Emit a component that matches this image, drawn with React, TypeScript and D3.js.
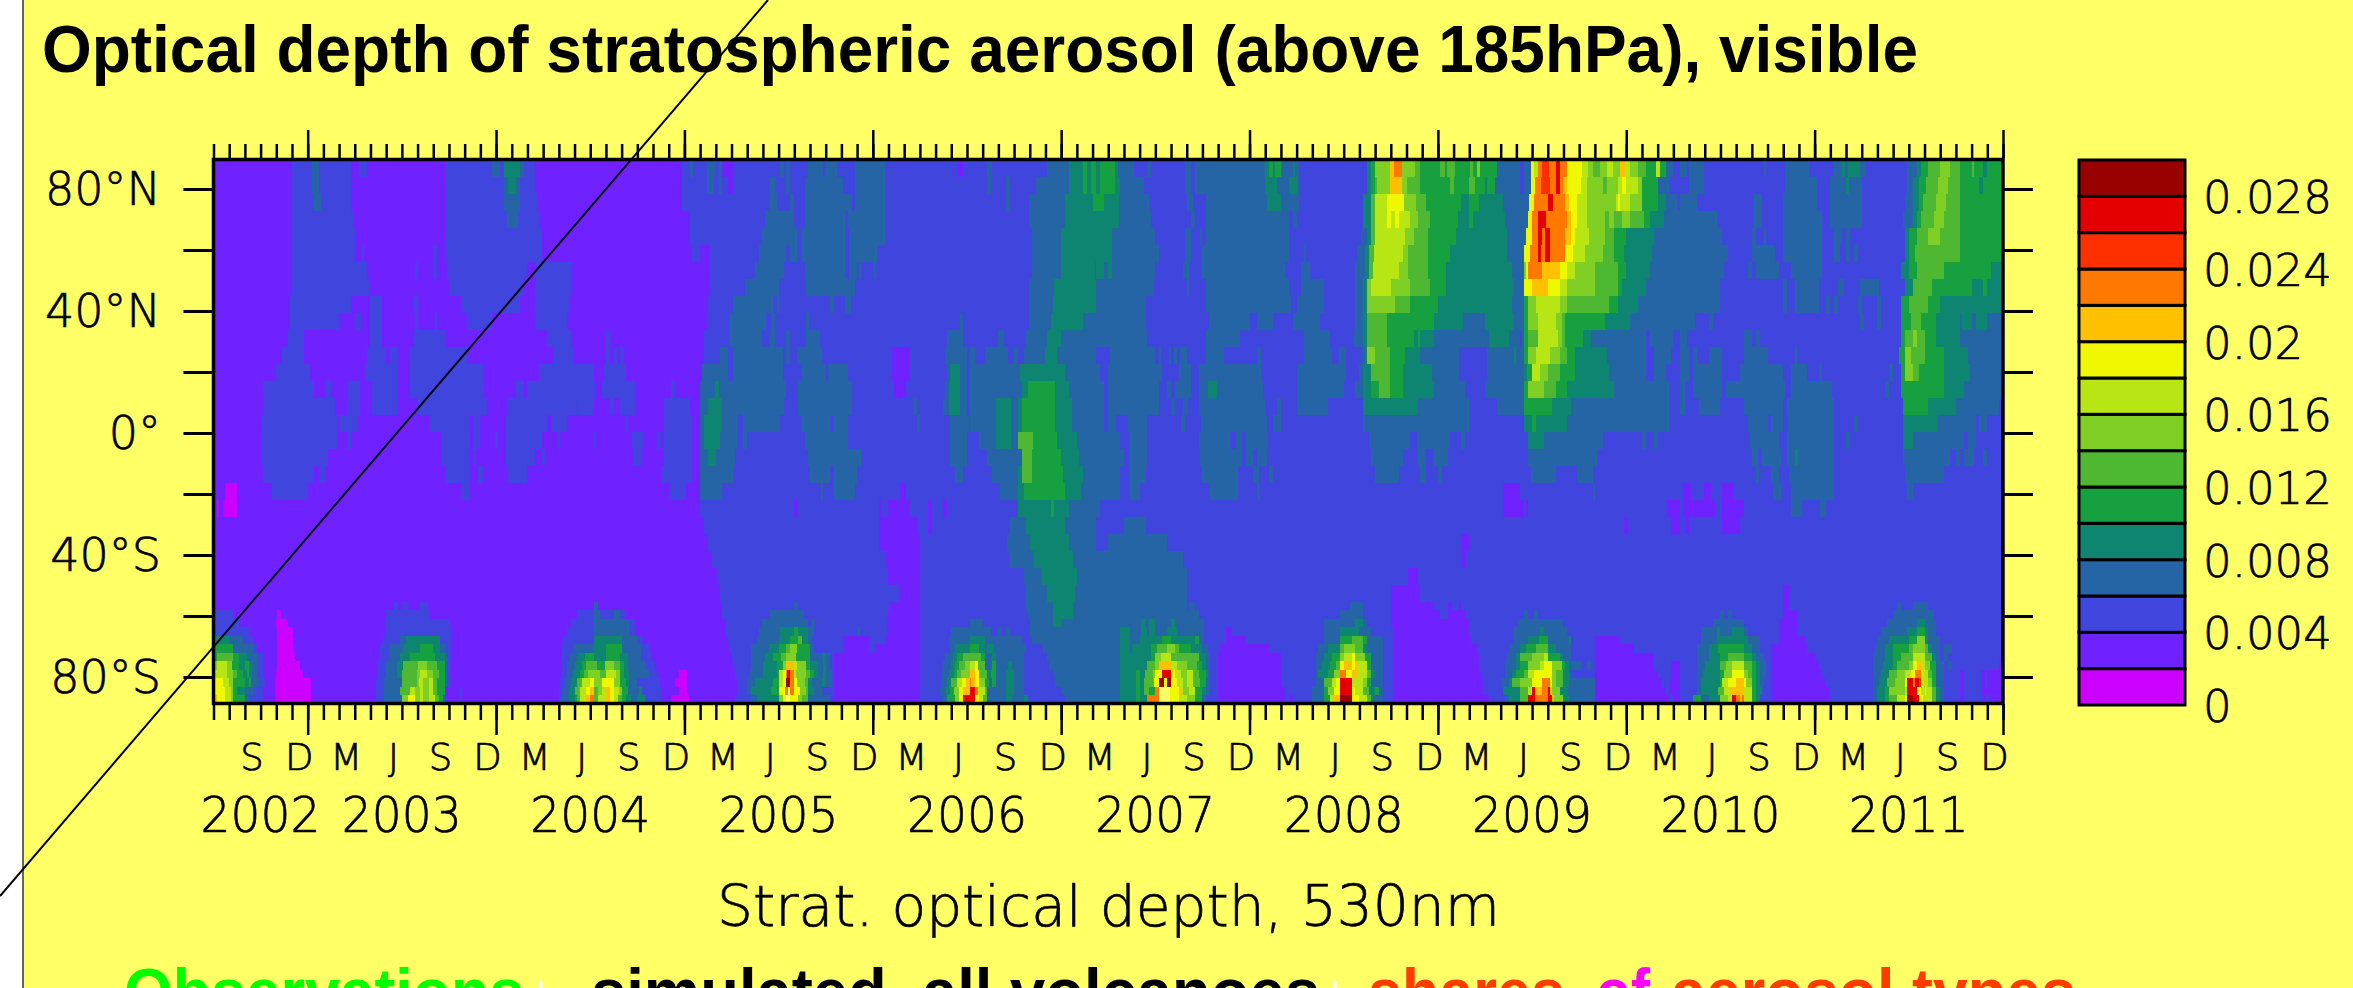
import React, { useEffect, useRef } from "react";
import * as d3 from "d3";

// colour bands of the bar, 0 .. 0.03 in steps of 0.002, last one is off scale
const bandColors = ["#cc00ff", "#6f22ff", "#3f45dd", "#2565a5", "#0e8570", "#16a040", "#4fb832", "#80cf25", "#b8e614", "#f0f800", "#ffc000", "#ff7800", "#ff3000", "#e40000", "#990000", "#ffff66"];
const barLabels = ["0", "0.004", "0.008", "0.012", "0.016", "0.02", "0.024", "0.028"];
const barValues = [0, 0.004, 0.008, 0.012, 0.016, 0.02, 0.024, 0.028];

const monthLabels = ["S", "D", "M", "J", "S", "D", "M", "J", "S", "D", "M", "J", "S", "D", "M", "J", "S", "D", "M", "J", "S", "D", "M", "J", "S", "D", "M", "J", "S", "D", "M", "J", "S", "D", "M", "J", "S", "D"];
const yearLabels = ["2002", "2003", "2004", "2005", "2006", "2007", "2008", "2009", "2010", "2011"];
const yearMonths = [3, 12, 24, 36, 48, 60, 72, 84, 96, 108];
const latTicks = [80, 60, 40, 20, 0, -20, -40, -60, -80];
const latLabels = new Map<number, string>([[80, "80°N"], [40, "40°N"], [0, "0°"], [-40, "40°S"], [-80, "80°S"]]);

// latitude rows top to bottom, counted in model grid rows (64 in all)
const rowSpans = [2, 2, 2, 2, 2, 2, 2, 2, 2, 2, 2, 2, 2, 2, 2, 2, 2, 2, 2, 2, 2, 2, 2, 2, 2, 2, 1, 1, 1, 1, 1, 1, 1, 1, 1, 1, 1, 1];

// "band:end" runs per latitude row, end in quarter months since the left edge
const runsA = [
  "1:20 2:25 3:27 2:35 1:37 2:39 1:59 2:71 3:73 2:74 4:78 3:79 2:82 1:97",
  "1:20 2:25 3:27 2:35 1:59 2:74 3:75 4:77 3:78 2:82 1:97",
  "1:20 2:25.5 3:27.3 2:35 1:59 2:74 3:78 2:82.5 1:97",
  "1:20 2:35.5 1:59 2:74.7 3:77.7 2:83 1:97",
  "1:20 2:36 1:59 2:83.6 1:97",
  "1:20 2:36 1:37.8 2:38.4 1:56 2:57 1:59 2:83.6 1:97",
  "1:20 2:39 1:51.4 2:52 1:56 2:57 1:59.4 2:80 1:82 2:91 1:97",
  "1:20 2:39.5 1:60 2:79 1:82 2:91 1:97",
  "1:19.5 2:35 1:40 2:43 1:51 2:52 1:63 2:78 1:82 2:90.5 1:97",
  "1:19.5 2:32 1:36 2:37.5 1:40 2:43 1:51.4 2:52 1:56.5 2:57 1:64.5 2:71 1:82 2:90 1:97",
  "1:19 2:23 1:40 2:43 1:51 2:59 1:85 2:91 1:97",
  "1:17.4 2:23 1:39 2:44 1:45 2:46.7 1:49.7 2:64.5 1:86.6 2:91.7 1:97",
  "1:16 2:24.6 1:38.6 2:46.7 1:50 2:68.8 1:83 2:97",
  "1:12.7 2:25.5 1:28.4 2:30 1:34.4 2:37.3 1:40.3 2:46.7 1:50 2:69 1:77 2:79 1:80 2:97",
  "1:12.7 2:31 1:34 2:37.3 1:40.3 2:46.7 1:52 2:69.6 1:74.7 2:92.5 1:93 2:97",
  "1:12.3 2:31.8 1:32 2:36.5 1:55 2:65 1:66 2:68 1:74.5 2:85 1:86 2:90 1:97",
  "1:12 2:31.4 1:34 2:35 1:58 2:65.4 1:66 2:68 1:71.7 2:72.6 1:74.5 2:83.6 1:87.5 2:88.3 1:97",
  "1:12 2:29.3 1:58 2:65 1:66 2:67 1:74.5 2:82 1:83.6 2:84.5 1:97",
  "1:12.7 2:25.5 1:27 2:28.4 1:59 2:65 1:67.5 2:68.8 1:75 2:80 1:97",
  "1:3 0:6 1:15 2:24 1:63 2:65 1:97",
  "1:1 0:1.5 1:2.5 0:6 1:97",
  "1:97",
  "1:97",
  "1:97",
  "1:97",
  "1:97",
  "1:46 2:47 1:48 2:49.6 1:52.6 2:54.7 1:97",
  "2:5 1:16.3 0:17.2 1:44 2:55 1:92.5 2:97",
  "2:6.4 1:16 0:19 1:43.7 2:60.3 1:91 2:97",
  "2:9 1:16.3 0:20.2 1:43.7 2:60.4 1:90 2:97",
  "4:4 3:7.6 2:10 1:16.3 0:20.2 1:43.3 2:47.5 3:49 4:57.7 2:60.4 1:89 2:97",
  "5:5 3:10 2:11 1:16.3 0:20.5 1:42.4 2:45 3:48.4 4:52.6 5:56 4:57.7 3:59 2:60.4 1:88.7 2:91.7 3:97",
  "5:1 6:5 5:6.4 4:8.5 3:11 2:12.7 1:16.3 0:20.8 1:42.2 2:44.6 3:47.5 4:50 5:56.5 4:59 3:59.4 2:60.4 1:88.7 2:90.8 3:93 4:94.6 5:97",
  "7:1 8:3.4 7:4.7 5:6.4 4:8 5:9 4:9.8 3:11 2:12.7 1:16.3 0:22 1:41.7 2:44 3:46.7 4:48.4 6:52 7:54.3 6:56.9 5:59 3:59.4 2:60.3 1:88.7 2:90 3:92 4:93.8 5:95 6:97",
  "8:3.4 7:5 6:6 5:7.5 4:8.5 5:9 4:9.8 3:11 2:12.7 1:16 0:22.8 1:41.7 2:44 3:46.7 4:48 6:51.8 7:52.6 8:54.3 7:56 6:57.5 5:59 3:59.5 2:60.3 1:88.7 2:90 3:91.7 4:93.5 5:94.5 6:95.5 7:97",
  "9:2.5 8:4 7:5 5:8 4:9 5:9.5 3:11.5 2:13 1:15.6 0:24.8 1:41.5 2:43.5 3:48 6:51.8 7:52.3 8:53.5 7:55 8:56 6:57 5:59 3:59.4 2:60.5 1:88.4 2:89.5 3:91 4:92.5 6:94 8:96 9:97",
  "9:3 8:4.5 7:5 5:6 4:8 3:10 2:12.7 1:15.6 0:24.8 1:41.5 2:43.5 3:47.5 6:50 8:51.4 7:52.5 8:53.5 7:55 8:56 6:57 5:59 1:62.5 2:63.3 1:88 2:89 3:90.7 4:92 6:93.5 8:95 9:96 a:97",
  "a:1 9:3 8:4.5 7:5 5:8 3:9 2:12.7 1:15.6 0:24.8 1:41.5 2:43.5 3:48 7:49.5 9:51.4 7:52.5 8:53.5 7:55 8:56.5 6:57.5 5:58.5 3:59 1:62.5 2:63.3 1:88 2:88.5 3:90.5 4:92 5:92.5 6:93.5 8:95 a:96 b:97",
];

const runsB = [
  "1:119.3 2:121.3 3:122.3 2:125.7 3:127.8 2:128.7 3:129.5 1:132.5 2:144.4 3:145.3 2:146 3:147 2:151.6 3:155.4 2:156.2 3:158.8 2:163.5 3:171 2:189.4 1:191 2:192.7",
  "1:119.3 2:125.7 3:127.5 2:128.7 3:129.5 2:131 1:132.5 2:141.7 3:143 2:146 3:147 2:150.6 3:160.5 2:163.5 3:171 2:192.7",
  "1:119.3 2:141.7 3:143.5 2:147 3:148 2:150.6 3:162.6 2:163.5 3:171 2:192.7",
  "1:121.3 2:140.5 3:148 2:150.6 3:161 2:161.8 3:171 2:192.7",
  "1:121.3 2:139.7 3:148.6 2:150 3:161 2:162 3:171 2:192.7",
  "1:122 2:124 1:126.5 2:139 3:146 2:147 3:148.6 2:150 3:161 2:162 3:169 2:192.7",
  "1:126.5 2:138 3:145.5 2:150.6 3:161 2:162 3:164 2:164.5 3:165 2:168 3:168.7 2:192.7",
  "1:126.5 2:135.5 3:144 2:151 3:163.5 2:192.7",
  "1:126 2:132.4 3:142.5 2:143.5 3:144.3 2:157 3:158 2:161 3:162.5 2:192.7",
  "1:125.7 2:131.5 3:140.7 2:142 3:143 2:151 3:151.7 2:190.2 3:191 2:192.7",
  "1:100 2:101 1:125 2:131.5 3:139.7 2:141.7 3:143 2:146 3:147 2:151 3:154.5 2:186.8 3:191 2:192.7",
  "1:100 2:101 1:102 2:103 1:103.6 2:104.5 1:125 2:129 3:131 2:132.3 3:145.2 2:146 3:147 2:148.6 3:155 2:173 1:177.5 2:186.5 3:192 2:192.7",
  "1:99.4 2:105 1:124.4 3:131.2 2:132.4 3:145 2:150 3:156 2:156.7 3:161.8 2:173 1:177.5 2:186.8 3:187.7 4:190.2 3:192 2:192.7",
  "2:97.2 1:99 2:107.3 1:116.5 2:117.6 1:124 3:127.8 4:128.7 3:146 2:149 3:162.6 2:173.5 1:176.5 2:186.5 3:187.5 4:190.2 3:192 2:192.7",
  "2:97 1:101 2:102 1:103.6 2:107.3 1:114.7 2:121.5 1:124 3:126 4:129.5 3:145.5 2:149 3:162.6 2:178.3 3:179.2 2:186 3:187.5 4:190.2 3:192 2:192.7",
  "1:105 2:105.5 1:114.7 2:122 1:124 3:125 4:129.5 3:133.7 2:135 3:144.4 2:150 3:157 2:158 3:161.6 2:179.3 3:180 2:187.7 3:192.5 2:192.7",
  "2:97.3 1:106.7 2:109.4 1:113 2:114 1:114.7 2:122 1:124 3:125 4:129 3:133.5 2:135 3:136 2:150.6 3:161.7 2:187.7 3:192 2:192.7",
  "1:107 2:109 1:114.7 2:122 1:124 3:126 4:128 3:133 2:151.6 3:165 2:187.7 3:192 2:192.7",
  "1:114 2:122 1:124 3:132.3 2:152 3:157 2:158 3:164 2:189 3:191 2:192.7",
  "1:116 2:120.5 1:124 3:129.5 2:154.7 3:155.4 2:158 3:163.5 2:175 1:176.5 2:192.7",
  "1:124 2:148 1:149 2:169.5 1:170 2:172 1:177.4 2:182 1:183 2:186 1:187 2:192.7",
  "1:125 2:169.5 1:179.4 2:182 1:183 2:192.7",
  "1:126 2:169.5 1:180 2:192.7",
  "1:127 2:171 1:180 2:192.7",
  "1:128.3 2:172 1:180 2:192.7",
  "1:129 2:174.7 1:180 2:192.7",
  "3:98 1:129.5 2:148 3:149 2:172.5 1:180 2:192.7",
  "3:98.4 2:102 3:103.6 2:105 1:129.7 2:141.7 3:150.5 2:172 1:180 2:192.7",
  "3:106 2:107.3 1:130.5 2:139.7 3:151.6 2:152.6 3:153.3 2:171.5 1:180 2:192.7",
  "3:106 2:107.5 1:130.5 2:139 3:144.4 4:148 5:149 4:151.5 3:153 2:164 3:164.8 2:171.5 1:180 2:188 3:192.7",
  "4:104 3:108 2:109.4 1:131 2:138.4 3:144 4:147 5:149 6:150 4:151.5 3:152.6 2:160.5 1:167 2:171 1:180 2:187.5 3:192.7",
  "5:97 4:100 5:104 3:109 2:111 1:131.3 2:137 3:141.5 4:144 5:146 6:147 7:148.7 5:152 3:153 2:160.5 1:167 2:168.5 1:180 2:187.7 3:189 4:192.7",
  "5:97 4:100 5:103.6 4:105.5 3:109 2:111.5 1:132 2:137 3:140.5 4:142.5 5:144.5 6:146 7:148.5 5:152 3:155.4 4:156.2 3:157 2:158 1:180 2:186.5 3:188.5 4:189.5 5:191 6:192.7",
  "6:97.7 5:99.8 7:102 6:103.6 5:104.5 4:105.5 3:110 2:112.5 1:132.3 2:137 3:140 4:143.5 5:145 7:146 a:148 8:148.7 7:151 5:152 4:154 3:155.4 4:156.2 3:157 2:158 1:180 2:186 3:188 4:189 5:190 6:191.5 7:192.7",
  "7:98.5 6:100 8:102.5 7:103.6 5:104.5 4:106 3:111 2:113 1:118.5 0:120.6 1:133 2:136.5 3:140 4:143.6 5:144 8:145 9:146 b:146.2 d:147 b:148 8:148.5 7:151 6:152 5:153 4:154 3:155.4 4:156.2 3:157.5 2:158 1:180 2:185.7 3:187.5 4:188.6 5:189.5 6:190.5 7:192.7",
  "8:97 7:99 9:102 7:103.6 5:105 4:106 3:108 2:113.7 1:117.7 0:120.6 1:133.5 2:136 3:138 4:142.5 5:144 8:145 9:146 e:147 b:148 9:148.7 7:150.6 6:151.5 4:152.5 3:155 4:156 3:157.5 2:158 1:180 2:185.7 3:187 4:188 6:189.5 8:190.7 9:191.7 a:192.7",
  "9:97 6:98 7:99 8:100 a:101 9:102 8:103.4 7:104 5:105.5 3:108.3 4:109.2 2:114 1:118.5 0:120.6 1:133.5 2:136 3:137 4:142 5:144 9:145.6 b:146.4 f:147 b:148 9:149.5 7:151 6:151.5 4:153 3:155.4 2:158 1:180 2:185 3:186.7 4:187.7 5:188.7 7:190 9:191 a:192.7",
  "8:97 6:98 8:100 a:101 9:102 8:103 6:104 5:105 4:106.5 3:108 4:110 2:114 1:116.6 0:121.2 1:133 2:137 3:138.5 4:144 7:145 9:146 f:147 9:149 7:150 6:151.5 3:157 2:158 1:180 2:185.7 3:187 5:189 7:190 9:191 d:192.7",
];

const runsC = [
  "2:197 3:198.5 2:212.5 3:218 4:221.5 5:222.6 4:223.5 5:225 4:226 5:229.8 4:230.5 3:234.5 2:238 3:239 2:247.5 3:249 2:250 3:268 4:269 5:270 4:270.5 5:272 4:272.3 3:275 4:275.5 3:276.6 2:287",
  "2:197 3:198 2:202 3:203 2:209.7 3:218 4:221.5 5:222.6 4:223.5 5:225 4:226 5:229.8 4:231 3:237 2:247.5 3:249 2:250 3:268 4:271 3:274 4:276 3:276.6 2:287",
  "2:202 3:203 2:207.7 3:217 4:224 5:227 4:230.8 3:238.5 2:248 3:249.5 2:253 3:268.5 4:272 3:276.5 2:287",
  "2:207.7 3:217 4:230.8 3:239 2:249 3:250 2:253 3:274 2:275 3:276 2:287",
  "2:208.6 3:216 4:229 3:240 2:247.5 3:249 2:251.5 3:252 2:253 3:274 2:287",
  "2:208.6 3:216 4:229 3:241 2:247.5 3:249 2:252 3:274 2:278 3:278.5 2:287",
  "2:208.6 3:216 4:224.5 3:225 4:227 3:228 4:229 3:240 2:247 3:248.5 2:252 3:273 2:277 3:279.4 2:287",
  "2:207.7 3:214.3 4:225 3:239.7 2:248 3:248.7 2:253 3:274 2:277 3:283 2:287",
  "2:207.7 3:214 4:225 3:237.5 2:253 3:274.6 2:276 3:283 2:287",
  "2:207.7 3:213.5 4:221.5 3:237.5 2:253.8 3:264 2:266 3:270 2:275 3:282 2:287",
  "2:200 3:201.5 2:207 3:212.5 4:216 3:238 2:253 3:261.5 2:278 3:284.5 2:287",
  "3:194 2:196.5 3:202.5 2:204 3:205 2:206.5 3:212 4:215 3:225 2:228.5 3:240 2:241 3:241.5 2:243.5 3:244 2:244.7 3:245.5 2:246.4 3:248 2:253 3:257.5 2:266 3:267 2:278 3:285 2:286.7 3:287",
  "3:205.5 4:217 3:226 2:228 3:241.6 2:246 3:249 2:251 3:267 2:276 3:287",
  "3:206 4:207.5 5:214.5 4:218 3:227 2:228 3:241 2:243 3:244 2:245 3:249 2:251 3:253.5 4:255.7 3:267.5 2:276 3:287",
  "3:199.5 4:203.3 3:205 4:206 5:214.5 4:218.7 3:227 2:228 3:241 2:244 3:245 2:247 3:248.3 2:251 3:268 2:271 3:272 2:276 3:284 2:287",
  "3:199.5 4:203.3 3:205 4:206 5:214.5 4:218.7 3:227 2:228 3:230 2:233 3:238 2:246.5 3:247.5 2:251.7 3:268.5 2:270 3:272 2:287",
  "2:195 3:199.5 4:203.3 3:205 6:208.8 5:215 4:220 3:231 2:233.5 3:238 2:251 3:259 2:260.5 3:262 2:263 3:268.7 2:287",
  "2:197 3:206 6:208.5 5:216 4:220.5 3:232 2:233.5 3:238 2:251.5 3:262 2:263 3:265 2:266 3:268.5 2:287",
  "2:198.5 3:205 4:206 6:208.6 5:216.5 4:221.5 3:231 2:233.5 3:237.5 2:252 3:261 2:265 3:266.5 2:269 3:270 2:287",
  "2:200.5 3:205 4:206.5 5:217 4:221 3:231 2:233.5 3:236 2:254 3:261 2:266 3:266.6 2:287",
  "2:205 4:213.5 5:214.3 4:218 3:226 2:287",
  "2:203 3:207 4:217 3:225 2:232 3:237.5 2:287",
  "2:202.3 3:208 4:218 3:225 2:228 3:243 2:287",
  "2:203 3:209 4:219 3:247 2:287",
  "2:206.5 3:211 4:220 3:248 2:287",
  "2:207 3:212.5 4:219.5 3:248 2:287",
  "2:207 3:214 4:219 3:248 2:248.7 3:250 2:287",
  "2:207.5 3:214 4:219 3:251 2:287",
  "3:196 2:208 3:214 4:216 3:236.4 4:237.4 3:238.3 4:240 3:244 4:245 3:252.5 2:283 3:287",
  "3:198 2:200 3:201 2:202 3:203 2:208 3:231 4:233.5 3:236.4 4:238 3:238.5 4:240 3:243 4:245.5 3:252.5 2:258 1:259.5 2:283 3:287",
  "4:196.5 3:206 2:208.5 3:231 4:233.5 3:236 4:241.7 5:244 4:250 5:251 3:252.5 2:258 1:263 2:283 3:287",
  "5:195 4:196.5 3:197 4:199 3:207 2:211.5 3:231 4:233.5 3:234 4:239 5:240.5 6:243 7:245 6:246 5:249 4:252 3:253.5 2:256.5 1:269 2:281.5 3:284 4:287",
  "6:195.5 5:196.5 3:198.5 4:199.5 3:206.5 2:212.5 3:231 4:239 5:240 7:241.5 8:244 6:251 4:253 3:254 2:256 1:272 2:281 3:283 4:285 5:287",
  "8:194 9:194.8 6:196.5 3:198.5 5:199.5 3:202.5 4:203.5 3:206.5 2:213 3:231 4:238 6:240 7:241 a:244 8:245.5 7:248 6:250.5 5:252 4:253 3:254 2:256 1:272 2:281 3:282.5 4:284.5 5:286 6:287",
  "a:194 9:195 6:197 4:198 5:199.5 3:202 4:204 3:206.5 2:214 3:231 4:235 5:236 4:237.4 6:239.5 7:240 9:241.7 d:244 9:245 8:246.5 7:248 8:249.5 6:251 5:253 4:253.5 3:254 2:256 1:272 2:281 3:281.5 4:284 5:285.5 7:287",
  "b:193 a:194 9:195 7:196.5 5:197.5 3:198.5 5:199.5 3:202 4:204 3:206.5 2:214.5 3:231 4:235 5:236 4:237 6:239.7 9:241 e:242.3 9:243 e:244 9:245.5 8:247 7:248 8:249.5 6:251.5 5:253 3:254 2:256 1:272 2:281 3:283 6:285 8:286 9:287",
  "d:194 b:194.8 8:196.5 6:197 3:202 4:204 3:206.5 2:216 3:231 4:235 5:236 4:237 6:238.5 5:240 b:241 f:243.8 9:246 a:246.5 8:247 7:248.5 8:250 5:252 4:253 3:254 2:256 1:273 2:280 3:283 5:284 7:285.5 9:287",
  "d:194 9:195 8:196 6:197 3:202 4:203.5 3:206.5 4:207.5 2:217 3:231 4:235 5:236 4:238 b:241 f:243.8 9:246 8:248 7:250 5:252 3:253 2:256 1:273 2:274 1:275 2:280 3:283 5:284.5 8:285.5 a:287",
];

const runsD = [
  "2:294 4:295 5:296 7:299.8 a:300.9 b:302.8 7:306.2 6:307.5 5:312.6 6:313.8 5:314.3 6:316.4 5:320.2 6:321 5:322 7:322.8 5:327 3:333 2:334 3:335.7 9:336.5 8:337.6 b:338.5 c:340.3 b:342.1 d:343.1 b:344.8 9:348.6 8:350.3 7:351.6 6:353.3 7:355 8:356.5 7:358.5 a:359.7 8:361 7:363 6:365 5:367.5 8:368.5 5:370 3:372 2:373.7",
  "2:294 4:295 5:296 6:296.5 7:299.8 a:302.8 7:304 6:307.5 5:315 6:316 5:320 6:321.5 5:324 4:324.5 5:326.5 3:333 2:334 3:335.7 9:336.7 b:338.2 c:340.5 b:342 d:343 b:344 a:345 9:348.5 8:350 7:354 6:355 7:358 8:359 9:360 8:363 7:364 5:368 3:371 2:373.7",
  "2:293 4:295 6:296 8:299 9:303.3 7:306.5 6:309 5:317.8 4:320 5:322.5 4:328.5 3:335.3 9:336.5 b:340.1 d:341.3 b:344.5 a:345.5 9:347.5 8:350 7:357.5 8:358 9:358.5 8:361 7:364 5:368 4:370 3:373 2:373.7",
  "2:293 4:295 6:296 8:299 9:300 8:301 9:302 8:305 7:307 6:310 5:317 4:320 5:321 4:329 3:335 9:336 b:337.5 d:339.5 b:345 a:346 9:347.5 8:350 7:354.5 6:355.5 7:357 6:359 7:361 6:364.5 5:366 4:369.5 3:373.7",
  "2:292.5 3:294 4:295 6:296 8:303.5 7:306 6:309.5 5:316.5 4:329.5 3:334.5 9:336 b:337.5 d:338.5 b:339.3 d:340.5 b:344.5 a:346 9:347 8:350.5 7:354.5 6:357 5:360 4:367 3:373.7",
  "2:291.5 3:293.5 4:294.5 6:295.8 8:303 7:304.5 6:309.5 5:315 4:329.5 3:334 9:335.5 b:337.5 d:338.3 b:339.2 d:340.5 b:344.5 9:346.5 8:349.5 7:354 6:357 5:359.5 4:366.5 3:373.7",
  "2:291 3:293.5 4:294.5 6:295.5 8:302 7:304.5 6:309.5 5:314 4:331 3:334 7:334.5 9:335 b:338.5 a:343 9:345 8:347 7:352 6:358 5:360 4:366 3:373.7",
  "2:291 3:293 4:294 7:295 8:300 7:305 6:310 5:314 4:331.5 3:334 9:336 a:340 9:343 8:345 7:352 6:358 5:359 4:365 3:373.7",
  "2:291 3:293 4:294 7:301 6:305 5:312 4:331 3:334 5:335 7:337 8:343 7:345 6:355.5 5:358 4:363 3:373.7",
  "2:291 3:293 4:294 6:299 5:311 4:318.5 3:324 4:331.5 3:334 5:335 7:337.5 8:342 7:343.5 6:344.5 5:354.5 4:361 3:373.7",
  "2:290.5 3:293 4:294 6:299 5:306 4:307 5:307.5 4:311 3:325 4:330 3:333 2:333.5 3:334 5:335 6:337.5 8:342.5 7:343.5 6:344.5 5:349 4:351 3:365 2:366 3:372 2:373.7",
  "3:288.5 2:292.7 3:293.5 4:294 7:296 6:299.8 5:303.5 4:307.5 3:317.5 2:324.5 3:331.5 4:332 3:334 5:335 7:337 8:340.5 7:343 6:345 5:347 4:355 3:365 2:367 3:371.5 2:373.7",
  "3:288.5 2:292 3:293 4:295 6:299.8 5:303 4:310.5 3:317.5 2:324.5 3:334 4:334.7 5:336 8:338 7:340 6:343 5:347 4:355.5 3:365 2:367 3:370 2:373.7",
  "3:288 2:291 3:293 4:295 5:297 6:299.8 5:303 4:311 3:319 2:324 3:334 5:335 7:339 6:342 5:345 4:357 3:371 2:373.7",
  "2:293 4:307 3:320 2:327 3:334 5:341 4:346 3:371 2:373.7",
  "2:293 3:320 2:334 4:336 5:337 4:345 3:371 2:373.7",
  "2:294.5 3:305 2:306.7 3:315 2:318 3:319 2:335 4:339 3:354 2:364 3:365 2:367 3:368 2:373.7",
  "2:295 3:303 2:307 3:309 2:311 3:314.5 2:335 3:352.5 2:373.7",
  "2:296 3:302 2:307.5 3:309 2:312 3:313 2:335.8 3:342 2:347.5 3:351.5 2:373.7",
  "2:328.5 1:333 2:351.5 3:352 2:373.7",
  "2:328.5 1:334 2:334.5 1:335 2:370.5 1:373.7",
  "2:359.5 1:360.5 2:371.5 1:373.7",
  "2:318 1:320 2:373.7",
  "2:318 1:319 2:373.7",
  "2:304.5 1:307 2:373.7",
  "2:300 1:307.5 2:373.7",
  "2:289.5 3:293 2:300 1:311 2:314.5 1:315.5 2:317.5 1:318 2:373.7",
  "3:293 2:300 1:312.5 2:314.5 1:319 2:334 3:335 2:336.5 3:337.5 2:373.7",
  "3:291 4:293 3:294 2:300 1:320 2:332.5 3:344 2:373.7",
  "4:292 3:295 2:300.5 1:320 2:331.5 3:338 4:339 3:345 2:373.7",
  "5:290 6:293 5:294 3:298 2:300.5 1:320.5 2:331.5 3:335 4:337.7 5:340 3:345.5 4:346 2:352 1:358.5 2:373.7",
  "6:288 7:291 6:293 4:294 3:298 2:300.5 1:322 2:330 3:333 4:334.5 5:337 6:340 4:342 3:346 2:352 1:362 2:373.7",
  "7:288 8:290 9:291 7:293.5 5:295 3:298 2:300.5 1:322.5 2:329.5 3:332 4:333 6:336 7:339 8:340 5:343 4:344 3:346 2:352 1:367 2:373.7",
  "9:288 a:290 9:291 a:291.5 8:294 5:295 3:298 2:300.5 1:322.5 2:329 3:332 4:333 5:335 7:338 8:339 9:341 7:343.5 5:344.5 4:345.5 3:348.5 2:350 3:351 2:352 1:367 2:371.5 1:373.7",
  "b:288.5 9:290 a:291.5 8:294 6:295 4:296 3:298 2:300.5 1:323 2:329 3:331 4:332 5:334 6:335 8:336.5 9:341 7:342 6:344 4:345.5 3:346 2:352 1:368 2:371.5 1:373.7",
  "d:290 8:293 7:294 5:295 3:298 2:300.5 1:323.5 2:328 3:330 4:331 6:333 7:336 9:338.5 b:340.5 9:341 7:342 6:344 4:345.5 3:352 1:369 2:371 1:373.7",
  "d:290 9:291 8:293 6:294.5 4:296 5:297 3:298 2:300.5 1:323.5 2:328.5 4:333 6:335 8:336 d:336.7 a:338.5 b:340 d:340.5 a:341 7:343 4:345 3:352 1:370 2:371 1:373.7",
  "e:290 9:292 8:294 6:295 4:295.5 3:298 2:300.5 1:325 2:329 3:330 4:333 6:335 d:336.7 b:340 d:341 a:341.5 7:344 4:345.5 3:352 1:371 2:372 1:373.7",
];

const runsE = [
  "3:375.5 2:376 3:379.7 2:395 3:395.5 2:400.5 3:406.5 2:413 3:415 4:415.8 3:416.6 4:419.5 3:421 2:431.5 3:434 4:435 5:437 6:440 7:442.5 6:445 5:448 6:448.5 5:451 4:452 5:456",
  "2:376 3:379.7 2:400.5 3:408.5 2:412 3:416 4:416.8 3:420 2:431.5 3:433 4:434.5 5:436.5 6:439.5 7:442 6:445 5:450 4:451 5:456",
  "3:378 2:392.5 3:394.5 2:400 3:408.5 2:412 3:420 2:431 3:433 4:434.5 5:435.5 6:439 7:441.5 6:445 5:456",
  "3:383 2:392.5 3:394.5 2:400 3:410 2:412 3:420 2:430.5 3:433 4:434 5:435 6:438.5 7:441 6:445 5:456",
  "3:384.5 2:392 3:393 2:395 3:395.5 2:400 3:410 2:413 3:415 2:416 3:417 2:431 4:432 5:434 6:437 7:440 6:445 5:456",
  "3:386 2:392 3:398 2:400 3:410 2:413 3:414.5 2:416 3:417 2:418 3:419 2:431 4:432 5:433.5 6:445 5:456",
  "3:385 2:391 3:392 2:393 3:399 2:402 3:410 2:430 4:432 5:434 6:441 5:453 4:456",
  "3:384 2:400 3:401 2:403 3:409 2:414 3:415.5 2:419.5 3:424.5 2:431 4:433 6:438 5:448 4:451 5:452 4:456",
  "3:384 2:400 3:401 2:403 3:409 2:411 3:412 2:413 3:414 2:419 3:420 2:424 3:425 2:430 5:432 6:437 5:440 4:456",
  "3:377.5 2:381 3:382 2:419.5 3:420.5 2:424 3:425 2:430 5:432.5 6:435 5:439 4:445 3:445.5 4:448 3:449 4:452 3:456",
  "3:375.5 2:390 3:392 2:393 3:394 2:430 5:431 6:433 7:434 6:436 5:439 4:445 3:456",
  "2:373.7 3:376 2:377 3:378 2:381 3:384.5 2:390 3:396 2:403 3:403.5 2:429.5 5:431 7:432.5 6:436 5:441 4:447 3:456",
  "3:376 2:377 3:384.5 2:389 3:400 2:402 3:406 2:409 3:410 2:427 3:428 2:430 5:431 7:433 6:434.5 5:441 4:447.5 3:456",
  "3:375 2:377 3:384.5 2:385.5 3:400.5 2:402 3:412.5 2:426 3:427 2:430 5:441 4:446 3:456",
  "3:375 2:378.5 3:384 2:390 3:400 2:401 3:413 2:430.5 5:437 4:444 3:455 2:456",
  "2:391 3:396 2:397 3:400 2:401.3 3:413 2:418 3:419 2:430.5 4:439.5 3:449 2:450 3:452 2:456",
  "2:391.5 3:399 2:401 3:413 2:416 3:417 2:430.5 4:433 3:446 2:447 3:449 2:456",
  "2:392 3:393.5 2:394.5 3:399.5 2:401 3:403 4:403.8 3:413 2:430.5 3:442.5 2:444 3:445 2:446 3:448.5 2:451 3:452 2:456",
  "2:393 3:393.8 2:397 3:399 2:401.5 3:413 2:431 3:441 2:456",
  "2:374.5 1:376.5 2:379.7 1:381.7 2:384.4 1:387.3 2:397.5 3:399.5 2:402 3:413 2:431.5 3:433 2:456",
  "1:373.7 2:374.4 1:382.7 2:384.4 1:390 2:402 3:404.7 2:409.4 3:411 2:456",
  "1:373 2:375 1:376 2:384.4 1:389 2:456",
  "2:456",
  "2:456",
  "2:456",
  "2:400 1:401.5 2:456",
  "2:400 1:401.5 2:429 3:430 2:433 3:437 2:456",
  "2:384 3:385 2:386 3:387 2:400 1:403.5 2:428 3:438.5 2:456",
  "2:382 3:390 2:399 1:403.5 2:426.5 3:434 4:436 3:439 2:456",
  "2:379 3:383 4:384 3:387 4:390 3:391 2:399 1:403.5 2:425 3:431.5 4:434 5:436 4:437 3:439 2:456",
  "2:379 3:383 4:391 3:394 2:399 1:405.5 2:424 3:427 4:432 5:434 7:436 4:437 3:440 2:456",
  "2:378 3:381 4:383.5 5:390 4:392 3:394 2:397 1:406 2:423.5 3:426 4:428 5:432 6:433 7:436 6:437 4:438 3:440 2:441 3:443 2:456",
  "2:378 3:381 4:384 5:386 6:390 5:392 4:393 3:395 2:397 1:408 2:423 3:426 4:428 5:430 6:433 8:436 6:438 4:439 3:440 2:441 3:442 2:456",
  "1:373.7 2:378 3:380 4:384 6:385.5 7:387 8:390 6:392 5:393 4:394 3:395.5 2:397 1:409 2:423 3:425.5 4:428 5:429 6:432 7:433 9:434 a:435 8:436 7:437.5 5:439 3:441 2:442 3:443 2:455 1:456",
  "1:373.7 2:378 3:379.5 4:384 5:385 7:387 9:390 7:391 6:392 5:393 4:394 3:395.5 2:397 1:410 2:423 3:425 4:427 6:429 7:431 8:432.5 9:433.5 b:435 9:435.5 8:437 6:438 5:439 3:441 2:445 1:446 2:450.5 1:451.5 2:452 1:456",
  "1:373.7 2:378 3:379 4:384 5:384.5 8:386 9:388 a:390 9:390.5 7:392 5:393 4:394 3:395 2:397 1:411 2:423 3:424.5 4:426.5 6:428.5 7:431 9:431.5 d:433 b:433.5 d:434.5 c:435 9:435.5 8:437 7:438 5:439 3:441 2:445 1:446 2:450.5 1:451.5 2:452 1:456",
  "1:373.7 2:378 3:379 4:383.5 6:385 8:386.5 a:390 8:392 5:393 4:394.5 2:397 1:412 2:423 3:424 4:426 5:427 7:431 8:431.5 d:434 9:435 8:436 9:436.5 8:438 6:439 4:440 3:441 2:445 1:446 2:450.5 1:456",
  "1:373.7 2:377 5:379 3:381 4:384 7:386 8:387 d:388 b:389 a:389.5 b:390 8:392 5:393 4:394 2:397 1:412 2:423 3:424 4:426 5:427 6:429 8:431 9:431.5 e:433 d:434.5 9:435.5 8:438 6:439 4:440 3:441 2:445 1:446 2:450.5 1:451.5 2:452.5 1:456",
];

const footerTexts = ["Observations", ";", "simulated, all volcanoes", ";", "shares", "of", "aerosol types"];
const footerColors = ["#00ff00", "#ffffff", "#000000", "#ffffff", "#ff3c00", "#ff00ff", "#ff3c00"];

const W = 2353, H = 988;
const thinFont = "'DejaVu Sans', sans-serif";
const boldFont = "'Liberation Sans', Arial, sans-serif";
// where each footer piece starts and ends on the page
const footerSpans = [[124, 524], [537, 545], [591, 1320], [1331, 1339], [1368, 1565], [1596, 1650], [1671, 2076]];

export default function App() {
  const ref = useRef<SVGSVGElement>(null);

  useEffect(() => {
    const svg = d3.select(ref.current);
    svg.selectAll("*").remove();

    const x = d3.scaleLinear().domain([0, 114]).range([213.5, 2003]);
    const y = d3.scaleLinear().domain([90, -90]).range([158.5, 707.5]);
    const rowLat = d3.scaleLinear().domain([0, 64]).range([89.5, -88.85]);
    const color = d3.scaleThreshold<number, string>()
      .domain(d3.range(1, 16).map(k => k * 0.002))
      .range(bandColors);

    svg.append("rect").attr("x", 23).attr("width", W - 23).attr("height", H).attr("fill", "#ffff66");
    svg.append("line").attr("x1", 23).attr("x2", 23).attr("y1", 0).attr("y2", H)
      .attr("stroke", "#333").attr("stroke-width", 1.5);

    // the field, one rect per run
    const cells: { t0: number; t1: number; top: number; bottom: number; value: number }[] = [];
    let rowStart = 0;
    rowSpans.forEach((span, i) => {
      const tokens = [runsA[i], runsB[i], runsC[i], runsD[i], runsE[i]].join(" ").split(" ");
      let prev = 0;
      tokens.forEach(tok => {
        const [lvl, end] = tok.split(":");
        const t1 = +end;
        if (t1 > prev) {
          cells.push({
            t0: prev, t1,
            top: rowStart, bottom: rowStart + span,
            value: (parseInt(lvl, 16) + 0.5) * 0.002,
          });
          prev = t1;
        }
      });
      rowStart += span;
    });

    svg.append("g").attr("shape-rendering", "crispEdges")
      .selectAll("rect").data(cells).join("rect")
      .attr("x", d => x(d.t0 / 4))
      .attr("width", d => x(d.t1 / 4) - x(d.t0 / 4) + 0.5)
      .attr("y", d => y(rowLat(d.top)))
      .attr("height", d => y(rowLat(d.bottom)) - y(rowLat(d.top)) + 0.5)
      .attr("fill", d => color(d.value));

    // plot frame
    svg.append("rect")
      .attr("x", x(0)).attr("y", 159.5)
      .attr("width", x(114) - x(0)).attr("height", 544)
      .attr("fill", "none").attr("stroke", "#000").attr("stroke-width", 3.5);

    // month and year ticks, top and bottom
    const months = d3.range(0, 115);
    const bigMonths = d3.range(6, 115, 12);
    const tickAxis = (axis: any, values: number[], size: number, at: number) => {
      const g = svg.append("g").attr("transform", `translate(0,${at})`)
        .call(axis(x).tickValues(values).tickSize(size).tickFormat(() => ""));
      g.select(".domain").remove();
      g.selectAll("line").attr("stroke", "#000").attr("stroke-width", 2.5);
    };
    tickAxis(d3.axisTop, months, 14, 158);
    tickAxis(d3.axisTop, bigMonths, 28, 158);
    tickAxis(d3.axisBottom, months, 16, 704);
    tickAxis(d3.axisBottom, bigMonths, 31, 704);

    // latitude ticks, both sides
    [d3.axisLeft, d3.axisRight].forEach((axis: any, side) => {
      const g = svg.append("g").attr("transform", `translate(${side ? x(114) : x(0)},0)`)
        .call(axis(y).tickValues(latTicks).tickSize(30).tickFormat(() => ""));
      g.select(".domain").remove();
      g.selectAll("line").attr("stroke", "#000").attr("stroke-width", 3);
    });

    const axisText = (sel: any, size: number) =>
      sel.attr("font-family", thinFont).attr("font-size", size).attr("font-weight", 200)
        .attr("fill", "#000").attr("stroke", "#000").attr("stroke-width", 0.7);

    axisText(svg.append("g").selectAll("text").data(latTicks.filter(d => latLabels.has(d))).join("text"), 46)
      .attr("x", 161).attr("y", (d: number) => y(d) + 16).attr("text-anchor", "end")
      .text((d: number) => latLabels.get(d));

    axisText(svg.append("g").selectAll("text").data(monthLabels).join("text"), 37)
      .attr("x", (_: string, i: number) => x((i + 1) * 3) - 8.5).attr("y", 770).attr("text-anchor", "middle")
      .text((d: string) => d);

    axisText(svg.append("g").selectAll("text").data(yearLabels).join("text"), 49)
      .attr("x", (_: string, i: number) => x(yearMonths[i])).attr("y", 832).attr("text-anchor", "middle")
      .attr("textLength", 120).attr("lengthAdjust", "spacingAndGlyphs")
      .text((d: string) => d);

    axisText(svg.append("text"), 57)
      .attr("x", 717).attr("y", 926).attr("textLength", 783).attr("lengthAdjust", "spacingAndGlyphs")
      .text("Strat. optical depth, 530nm");

    // colour bar
    const barY = d3.scaleLinear().domain([0, 0.03]).range([705, 160]);
    svg.append("g").selectAll("rect").data(d3.range(0, 15)).join("rect")
      .attr("x", 2079).attr("width", 106)
      .attr("y", d => barY((d + 1) * 0.002))
      .attr("height", d => barY(d * 0.002) - barY((d + 1) * 0.002))
      .attr("fill", d => bandColors[d])
      .attr("stroke", "#000").attr("stroke-width", 3);

    axisText(svg.append("g").selectAll("text").data(barValues).join("text"), 45)
      .attr("x", 2203).attr("y", (d: number) => barY(d) + 17)
      .text((_: number, i: number) => barLabels[i]);

    // title and cut off footer
    svg.append("text")
      .attr("x", 42).attr("y", 72)
      .attr("font-family", boldFont).attr("font-weight", 700).attr("font-size", 66)
      .attr("textLength", 1876).attr("lengthAdjust", "spacingAndGlyphs")
      .text("Optical depth of stratospheric aerosol (above 185hPa), visible");

    svg.append("g").selectAll("text").data(footerTexts).join("text")
      .attr("x", (_, i) => footerSpans[i][0]).attr("y", 1015)
      .attr("textLength", (_, i) => footerSpans[i][1] - footerSpans[i][0])
      .attr("lengthAdjust", "spacingAndGlyphs")
      .attr("font-family", boldFont).attr("font-weight", 700).attr("font-size", 66)
      .attr("fill", (_, i) => footerColors[i])
      .text(d => d);

    // stray diagonal across the page
    svg.append("line").attr("x1", 0).attr("y1", 896).attr("x2", 768).attr("y2", 0)
      .attr("stroke", "#000").attr("stroke-width", 2);
  }, []);

  return (
    <svg ref={ref} width={W} height={H} style={{ position: "absolute", left: 0, top: 0, background: "#fff" }} />
  );
}
